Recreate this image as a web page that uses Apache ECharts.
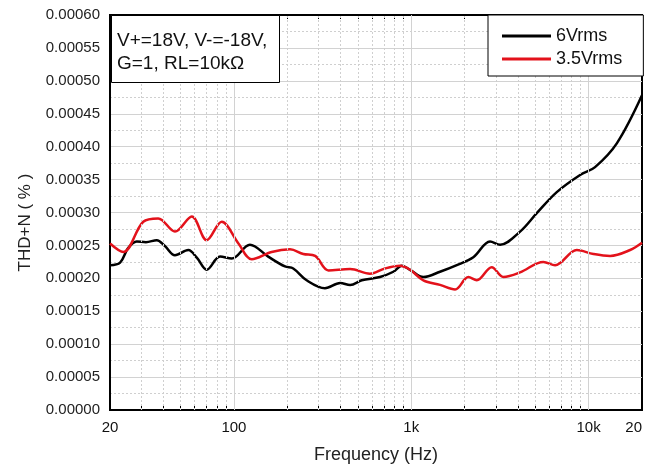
<!DOCTYPE html>
<html>
<head>
<meta charset="utf-8">
<script src="https://cdn.jsdelivr.net/npm/echarts@6/dist/echarts.min.js"></script>
<style>
  html, body { margin: 0; padding: 0; background: #fff; }
  #main { width: 652px; height: 470px; }
</style>
</head>
<body>
<div id="main"></div>
<script>
    var myChart = echarts.init(document.getElementById('main'));

    // 6Vrms curve (Hz, %)
    var freq6 = [20, 22.8, 25.3, 28.3, 31.9, 36.7, 40.8, 46.5, 55.3, 61.9, 70.2, 83.5, 97.2, 123, 156, 194, 216, 257,
        326, 397, 452, 526, 666, 792, 884, 984, 1170, 1452, 1806, 2238, 2780, 3169, 4106, 5101, 6614, 8954, 10876, 14420, 20000];
    var thd6 = [0.000220, 0.000224, 0.000246, 0.000256, 0.000255, 0.000258, 0.000249, 0.000235, 0.000243, 0.000231,
        0.000213, 0.000233, 0.000230, 0.000251, 0.000233, 0.000218, 0.000215, 0.000197, 0.000185, 0.000193, 0.000190,
        0.000197, 0.000202, 0.000210, 0.000219, 0.000213, 0.000202, 0.000210, 0.000220, 0.000232, 0.000256, 0.000251,
        0.000271, 0.000299, 0.000331, 0.000357, 0.000369, 0.000405, 0.000478];

    // 3.5Vrms curve
    var freq35 = [20, 23.8, 30.8, 37.4, 46.5, 57.8, 70.2, 85.3, 106, 126, 163, 207, 246, 287, 341, 452, 585, 711, 864,
        984, 1170, 1452, 1766, 2098, 2340, 2842, 3306, 4106, 5558, 6472, 8578, 10638, 13216, 17140, 20000];
    var thd35 = [0.000253, 0.000240, 0.000286, 0.000291, 0.000271, 0.000294, 0.000258, 0.000286, 0.000253, 0.000229,
        0.000240, 0.000244, 0.000237, 0.000234, 0.000212, 0.000214, 0.000207, 0.000215, 0.000219, 0.000213, 0.000197,
        0.000190, 0.000183, 0.000202, 0.000197, 0.000217, 0.000202, 0.000209, 0.000225, 0.000220, 0.000243, 0.000237,
        0.000234, 0.000243, 0.000254];

    var xLabels = [20, 100, 1000, 10000, 20000];
    var gridMajor = [100, 1000, 10000];
    var gridMinor = [30, 40, 50, 60, 70, 80, 90, 200, 300, 400, 500, 600, 700, 800, 900,
        2000, 3000, 4000, 5000, 6000, 7000, 8000, 9000];

    var pairs = function (xs, ys) {
        return xs.map(function (x, i) { return [x, ys[i]]; });
    };

    var gridLines = gridMajor.map(function (f) {
        return { xAxis: f, lineStyle: { color: '#d2d2d2', type: 'solid', width: 1 } };
    }).concat(gridMinor.map(function (f) {
        return { xAxis: f, lineStyle: { color: '#cfcfcf', type: [2, 2], width: 1 } };
    }));

    var font = 'Liberation Sans, Arial, sans-serif';

    var xTicks = {
        show: true, inside: true, length: 4,
        customValues: gridMinor.concat(gridMajor),
        lineStyle: { color: '#000', width: 1 }
    };

    option = {
        animation: false,
        backgroundColor: '#fff',
        title: {
            text: 'V+=18V, V-=-18V,\nG=1, RL=10kΩ',
            left: 111,
            top: 15,
            padding: [14, 13, 8, 6],
            borderColor: '#000',
            borderWidth: 1,
            backgroundColor: '#fff',
            textStyle: { fontFamily: font, fontSize: 19, fontWeight: 'normal', color: '#111', lineHeight: 23 },
            z: 10
        },
        legend: {
            data: ['6Vrms', '3.5Vrms'],
            orient: 'vertical',
            left: 488,
            top: 15,
            padding: [11, 21, 7, 14],
            itemGap: 3,
            itemWidth: 49,
            itemHeight: 3,
            icon: 'rect',
            borderColor: '#000',
            borderWidth: 1,
            backgroundColor: '#fff',
            textStyle: { fontFamily: font, fontSize: 18, color: '#111', lineHeight: 20 },
            z: 10
        },
        grid: {
            left: 110,
            right: 10,
            top: 15,
            bottom: 60,
            show: true,
            borderColor: '#000',
            borderWidth: 2
        },
        xAxis: [{
            type: 'log',
            logBase: 10,
            min: 20,
            max: 20000,
            name: 'Frequency (Hz)',
            nameLocation: 'middle',
            nameGap: 36,
            nameTextStyle: { fontFamily: font, fontSize: 18, color: '#222' },
            axisLine: { lineStyle: { color: '#000', width: 2 } },
            axisTick: xTicks,
            splitLine: { show: false },
            axisLabel: {
                customValues: xLabels,
                alignMaxLabel: 'right',
                margin: 10,
                fontFamily: font,
                fontSize: 15,
                color: '#111',
                formatter: function (v) {
                    if (v >= 20000) return '20';
                    if (v >= 1000) return Math.round(v / 1000) + 'k';
                    return String(Math.round(v));
                }
            }
        }, {
            type: 'log',
            logBase: 10,
            min: 20,
            max: 20000,
            position: 'top',
            axisLine: { lineStyle: { color: '#000', width: 2 } },
            axisTick: xTicks,
            splitLine: { show: false },
            axisLabel: { show: false }
        }],
        yAxis: {
            type: 'value',
            min: 0,
            max: 0.0006,
            interval: 0.00005,
            name: 'THD+N ( % )',
            nameLocation: 'middle',
            nameGap: 76,
            nameTextStyle: { fontFamily: font, fontSize: 17, color: '#222', padding: [0, 20, 0, 0] },
            axisLine: { show: true, lineStyle: { color: '#000', width: 2 } },
            axisTick: { show: false },
            axisLabel: {
                fontFamily: font,
                fontSize: 15,
                color: '#222',
                margin: 10,
                formatter: function (v) { return v.toFixed(5); }
            },
            splitLine: { show: true, lineStyle: { color: '#d2d2d2', width: 1 } },
            minorTick: { show: false, splitNumber: 2 },
            minorSplitLine: { show: true, lineStyle: { color: '#cfcfcf', type: [2, 2], width: 1 } }
        },
        series: [
            {
                name: 'grid',
                type: 'line',
                data: [],
                silent: true,
                z: 1,
                markLine: {
                    silent: true,
                    symbol: 'none',
                    label: { show: false },
                    animation: false,
                    data: gridLines
                }
            },
            {
                name: '6Vrms',
                type: 'line',
                data: pairs(freq6, thd6),
                smooth: 0.35,
                symbol: 'none',
                z: 3,
                lineStyle: { color: '#000', width: 2.5 },
                itemStyle: { color: '#000' }
            },
            {
                name: '3.5Vrms',
                type: 'line',
                data: pairs(freq35, thd35),
                smooth: 0.35,
                symbol: 'none',
                z: 3,
                lineStyle: { color: '#e3121b', width: 2.5 },
                itemStyle: { color: '#e3121b' }
            }
        ]
    };

    myChart.setOption(option);
</script>
</body>
</html>
